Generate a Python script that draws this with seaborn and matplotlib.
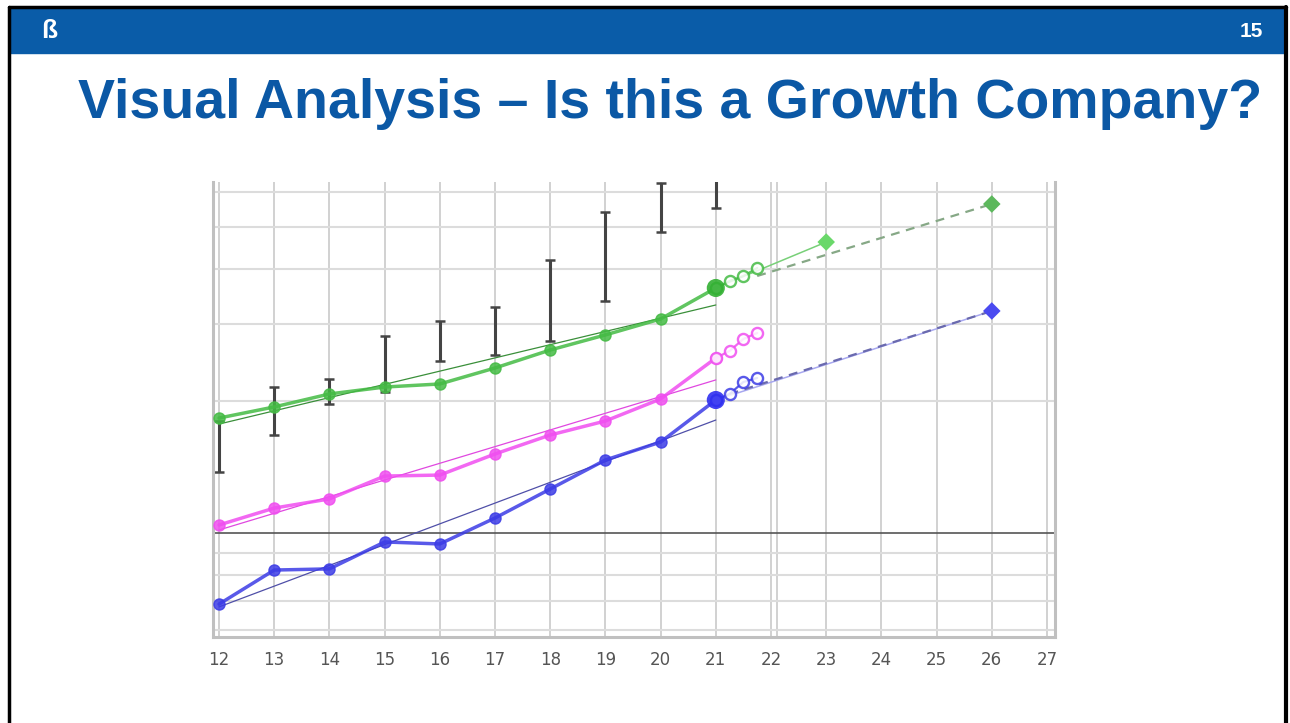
import matplotlib
matplotlib.use('Agg')
import pandas as pd
import matplotlib.pyplot as plt
import seaborn as sns
from matplotlib.patches import Rectangle
from matplotlib.lines import Line2D

# -------------------------------
# Data (log-scaled y, 1.0 = black reference line)
# -------------------------------
years = [12, 13, 14, 15, 16, 17, 18, 19, 20, 21]
green = [1.830, 1.940, 2.077, 2.154, 2.189, 2.381, 2.617, 2.833, 3.081, 3.626]
magenta = [1.043, 1.140, 1.196, 1.349, 1.356, 1.515, 1.674, 1.802, 2.023, 2.509]
blue = [0.688, 0.823, 0.828, 0.954, 0.944, 1.082, 1.260, 1.468, 1.613, 2.012]

# yearly high / low ranges (black bars)
range_low = [1.378, 1.674, 1.970, 2.099, 2.470, 2.549, 2.744, 3.386, 4.866, 5.521]
range_high = [1.800, 2.154, 2.247, 2.818, 3.048, 3.281, 4.201, 5.405, 6.297, 7.500]

# quarterly (open circles) after year 21
quarters = [21, 21.25, 21.5, 21.75]
green_q = [3.626, 3.762, 3.862, 4.027]
magenta_q = [2.509, 2.604, 2.773, 2.862]
blue_q = [2.012, 2.077, 2.212, 2.259]

# trend lines (start / end)
trend_x = [12, 21]
green_trend = [1.773, 3.316]
magenta_trend = [1.016, 2.236]
blue_trend = [0.678, 1.811]

# projections
green_proj_x = [21, 23]
green_proj = [3.626, 4.617]
green_dash_x = [21.75, 26]
green_dash = [3.862, 5.638]
blue_proj_x = [21, 26]
blue_proj = [2.012, 3.213]
blue_dash_x = [21.25, 26]
blue_dash = [2.077, 3.213]

xticks = list(range(12, 28))
grid_y = [0.6, 0.7, 0.8, 0.9, 2, 3, 4, 5, 6]

# -------------------------------
# Figure / slide frame
# -------------------------------
sns.set_style('white')
plt.rcParams['font.family'] = ['Liberation Sans', 'DejaVu Sans']

W, H = 1290, 723
fig = plt.figure(figsize=(W / 100, H / 100), dpi=100)
fig.patch.set_facecolor('white')

blue_hdr = '#0a5ca8'
fig.patches.append(Rectangle((10 / W, 1 - 53 / H), 1274 / W, 45 / H,
                             transform=fig.transFigure, color=blue_hdr, zorder=0))
# black slide border
fig.lines.append(Line2D([9 / W, 1286 / W], [1 - 6.5 / H, 1 - 6.5 / H], transform=fig.transFigure,
                        color='black', lw=2.5))
fig.lines.append(Line2D([9 / W, 9 / W], [0, 1 - 6.5 / H], transform=fig.transFigure,
                        color='black', lw=2.5))
fig.lines.append(Line2D([1286 / W, 1286 / W], [0, 1 - 6.5 / H], transform=fig.transFigure,
                        color='black', lw=3))

fig.text(49 / W, 1 - 31 / H, 'ß', color='white', fontsize=19, fontweight='bold',
         ha='center', va='center')
fig.text(1251 / W, 1 - 37 / H, '15', color='white', fontsize=15, fontweight='bold',
         ha='center', va='baseline')
fig.text(670 / W, 1 - 118 / H, 'Visual Analysis \u2013 Is this a Growth Company?',
         color='#0b58a5', fontsize=40, fontweight='bold', ha='center', va='baseline')

# -------------------------------
# Chart
# -------------------------------
ax = fig.add_axes([213 / W, 1 - 637 / H, (1055 - 213) / W, (637 - 182) / H])
ax.set_yscale('log')
ax.set_xlim(11.891, 27.145)
ax.set_ylim(0.5788, 6.33)

ax.set_xticks(xticks)
ax.set_xticklabels([str(t) for t in xticks])
ax.set_yticks(grid_y)
ax.set_yticks([], minor=True)
ax.yaxis.set_major_formatter(plt.NullFormatter())
ax.tick_params(axis='x', length=0, pad=10, labelcolor='#555555', labelsize=12)
ax.tick_params(axis='y', length=0, left=False, labelleft=False)
for lab in ax.get_xticklabels():
    lab.set_family(['Liberation Sans Narrow', 'DejaVu Sans'])

ax.grid(axis='x', color='#c9c9c9', lw=1.2, zorder=0)
ax.grid(axis='y', color='#dcdcdc', lw=1.5, zorder=0)
ax.axvline(22.11, color='#c9c9c9', lw=1.2, zorder=0)
ax.axhline(1.0, color='#555555', lw=1.2, zorder=1)

for side in ['left', 'bottom', 'right']:
    ax.spines[side].set_color('#c0c0c0')
    ax.spines[side].set_linewidth(2.2)
ax.spines['top'].set_visible(False)

# high / low range bars
mid = [(lo + hi) / 2 for lo, hi in zip(range_low, range_high)]
ax.errorbar(years, mid, yerr=[[m - lo for m, lo in zip(mid, range_low)],
                              [hi - m for m, hi in zip(mid, range_high)]],
            fmt='none', ecolor='#444444', elinewidth=2.2, capsize=3.5, capthick=1.8, zorder=2)

# trend lines
sns.lineplot(x=trend_x, y=green_trend, ax=ax, color='#3a8f3a', lw=0.9, zorder=3)
sns.lineplot(x=trend_x, y=magenta_trend, ax=ax, color='#e048e0', lw=0.9, zorder=3)
sns.lineplot(x=trend_x, y=blue_trend, ax=ax, color='#4f4fa8', lw=0.9, zorder=3)

# projection lines
sns.lineplot(x=green_proj_x, y=green_proj, ax=ax, color='#78d078', lw=1.1, zorder=3)
sns.lineplot(x=green_dash_x, y=green_dash, ax=ax, color='#86a886', lw=1.6,
             linestyle=(0, (4, 3)), zorder=3)
sns.lineplot(x=blue_proj_x, y=blue_proj, ax=ax, color='#a8a8f0', lw=1.1, zorder=3)
sns.lineplot(x=blue_dash_x, y=blue_dash, ax=ax, color='#6a6aae', lw=1.6,
             linestyle=(0, (4, 3)), zorder=3)

# main series
series = [(green, green_q, '#44bb44'), (magenta, magenta_q, '#f04ef0'), (blue, blue_q, '#3c3ce6')]
for vals, qvals, col in series:
    sns.lineplot(x=years, y=vals, ax=ax, color=col, lw=2.5, alpha=0.85, marker='o',
                 markersize=8, markeredgecolor=col, markeredgewidth=1, zorder=4)
    sns.lineplot(x=quarters, y=qvals, ax=ax, color=col, lw=1.6, alpha=0.85, marker='o',
                 markersize=8, markerfacecolor='white', markeredgecolor=col,
                 markeredgewidth=1.7, zorder=4)

# emphasised latest points
sns.scatterplot(x=[years[-1], years[-1]], y=[green[-1], blue[-1]], ax=ax,
                color=['#33b033', '#2f2ff0'], s=170, alpha=0.9,
                edgecolor='none', zorder=5, legend=False)

# target diamonds
sns.scatterplot(x=[23, 26, 26], y=[green_proj[-1], green_dash[-1], blue_dash[-1]], ax=ax,
                marker='D', s=80, color=['#6ad86a', '#5cb85c', '#4a4af0'],
                edgecolor='none', zorder=5, legend=False)

fig.savefig('out.png', dpi=100)
